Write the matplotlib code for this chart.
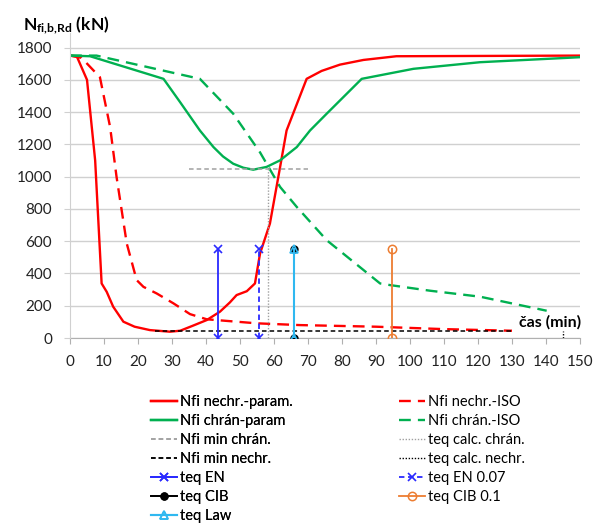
import matplotlib
matplotlib.use("Agg")
import matplotlib.pyplot as plt

plt.rcParams['font.family'] = ['Lato', 'DejaVu Sans']
plt.rcParams['mathtext.fontset'] = 'custom'
plt.rcParams['mathtext.rm'] = 'Lato'
plt.rcParams['mathtext.bf'] = 'Lato:bold'

# Nfi nechr.-param. (cas [min], N [kN])
red_param_t = [0, 2, 5, 7.4, 9.3, 10.8, 12.7, 15.7, 19, 23.5, 29.4, 32.4, 36, 40.2, 44.1, 47,
               49, 52, 54.4, 55.9, 58.8, 61.8, 63.7, 69.6, 74, 79.4, 86.3, 96, 150]
red_param_N = [1750, 1745, 1600, 1100, 338, 286, 194, 101, 70, 49, 39, 45, 75, 111, 163, 220,
               266, 290, 338, 524, 709, 1060, 1286, 1606, 1655, 1694, 1723, 1746, 1750]
# Nfi nechr.-ISO
red_iso_t = [0, 3.4, 8.8, 11.8, 13.7, 16.7, 19.6, 21.6, 25.5, 30.4, 35.3, 40.2, 54.9, 67.6, 90, 110, 130]
red_iso_N = [1750, 1736, 1616, 1307, 997, 585, 359, 317, 276, 215, 148, 116, 91, 80, 70, 55, 45]
# Nfi chran-param
green_param_t = [0, 5.9, 27.5, 32.4, 38.2, 42.2, 45, 48, 51, 53.9, 57.8, 61.8, 66.7, 70.6, 75.5,
                 85.8, 101, 120.6, 150]
green_param_N = [1750, 1746, 1606, 1461, 1286, 1183, 1125, 1080, 1055, 1043, 1060, 1101, 1183,
                 1286, 1390, 1606, 1668, 1709, 1740]
# Nfi chran.-ISO
green_iso_t = [0, 7.8, 38.2, 48, 55.9, 61.8, 66.7, 75.5, 91.2, 94.1, 105.9, 120.6, 140.2]
green_iso_N = [1750, 1750, 1606, 1390, 1150, 936, 812, 606, 338, 328, 293, 256, 169]

# minima a ekvivalentni casy
min_chran_t = [35, 70]
min_chran_N = [1045, 1045]
min_nechr_t = [25, 130]
min_nechr_N = [45, 45]
teq_calc_chran = 58.1
teq_calc_nechr = 145
teq_en = 43.6
teq_en007 = 55.7
teq_cib = 66
teq_law = 66
teq_cib01 = 94.6
teq_top = 550

red = '#ff0000'
green = '#00b050'
blue = '#2a2aff'

fig = plt.figure(figsize=(5.99, 5.28), dpi=100)
ax = fig.add_axes([70/599, 1-338/528, 510/599, 305/528])

l1, = ax.plot(red_param_t, red_param_N, color=red, lw=1.7)
l2, = ax.plot(red_iso_t, red_iso_N, color=red, lw=1.7, dashes=(5, 3))
l3, = ax.plot(green_param_t, green_param_N, color=green, lw=1.7)
l4, = ax.plot(green_iso_t, green_iso_N, color=green, lw=1.7, dashes=(5, 3))
l5, = ax.plot(min_chran_t, min_chran_N, color='#a0a0a0', lw=1.1, dashes=(3, 2))
l6, = ax.plot(min_nechr_t, min_nechr_N, color='black', lw=1.1, dashes=(3, 2))
l7, = ax.plot([teq_calc_chran, teq_calc_chran], [0, min_chran_N[0]], color='#a0a0a0', lw=1, dashes=(1, 1.2))
l8, = ax.plot([teq_calc_nechr, teq_calc_nechr], [0, min_nechr_N[0]], color='black', lw=1, dashes=(1, 1.2))
l9, = ax.plot([teq_en, teq_en], [0, teq_top], color=blue, lw=1.3, marker='x', ms=6, mew=1.2)
l10, = ax.plot([teq_en007, teq_en007], [0, teq_top], color=blue, lw=1.3, dashes=(3, 2), marker='x', ms=6, mew=1.2)
l11, = ax.plot([teq_cib, teq_cib], [0, teq_top], color='black', lw=1.3, marker='o', ms=5)
l12, = ax.plot([teq_law, teq_law], [0, teq_top], color='#2fb8f0', lw=1.5, marker='^', ms=6, mfc='none', mew=1.2)
l13, = ax.plot([teq_cib01, teq_cib01], [0, teq_top], color='#ed7d31', lw=1.3, marker='o', ms=6, mfc='none', mew=1.1)

ax.set_xlim(0, 150)
ax.set_ylim(0, 1890)
ax.set_xticks(range(0, 151, 10))
ax.set_yticks(range(0, 1801, 200))
ax.yaxis.grid(True, color='#d0d0d0', lw=1)
ax.set_axisbelow(True)
for s in ['top', 'right']:
    ax.spines[s].set_visible(False)
ax.spines['left'].set_color('#d0d0d0')
ax.spines['bottom'].set_color('#b0b0b0')
ax.spines['bottom'].set_zorder(0)
ax.tick_params(axis='x', length=4, color='#b0b0b0', labelsize=11, pad=8)
ax.tick_params(axis='y', length=4, color='#d0d0d0', labelsize=11, pad=9)
for lab in ax.get_xticklabels() + ax.get_yticklabels():
    lab.set_color('#222222')

fig.text(23/599, 1-30/528, r'$\mathbf{N_{fi{,}b{,}Rd}}$ (kN)', fontsize=12.5, fontweight='bold', va='baseline')
ax.text(132, 95, 'čas (min)', fontsize=11.5, fontweight='bold', va='center')

leg1 = fig.legend([l1, l3, l5, l6, l9, l11, l12],
                  ['Nfi nechr.-param.', 'Nfi chrán-param', 'Nfi min chrán.', 'Nfi min nechr.',
                   'teq EN', 'teq CIB', 'teq Law'],
                  loc='upper left', bbox_to_anchor=(138/599, 1-382/528), frameon=False,
                  fontsize=10.5, handlelength=1.8, handletextpad=0.2, labelspacing=0.34)
fig.add_artist(leg1)
fig.legend([l2, l4, l7, l8, l10, l13],
           ['Nfi nechr.-ISO', 'Nfi chrán.-ISO', 'teq calc. chrán.', 'teq calc. nechr.',
            'teq EN 0.07', 'teq CIB 0.1'],
           loc='upper left', bbox_to_anchor=(386/599, 1-382/528), frameon=False,
           fontsize=10.5, handlelength=1.8, handletextpad=0.2, labelspacing=0.34)

fig.savefig('out.png', dpi=100)
